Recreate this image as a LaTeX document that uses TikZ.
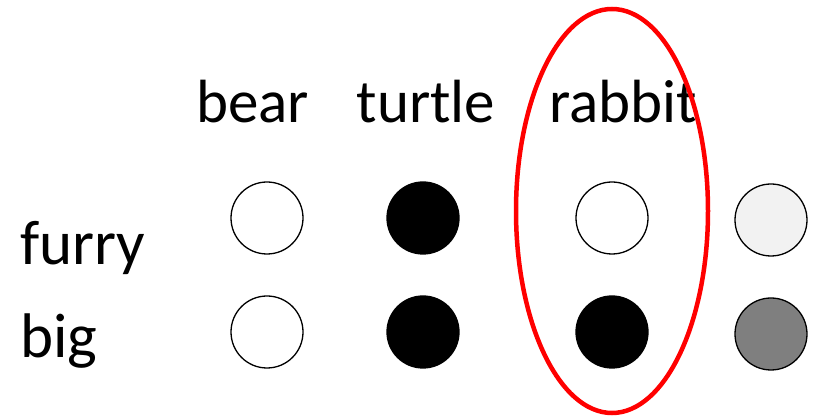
\documentclass[tikz,border=0pt]{standalone}
\usepackage{fontspec}
\setmainfont{Carlito}
\usetikzlibrary{positioning}
\definecolor{selred}{HTML}{FF0000}
\definecolor{lightfill}{HTML}{F2F2F2}
\definecolor{midfill}{HTML}{7F7F7F}
\tikzset{
  unit/.style={circle, draw=black, line width=1.3pt, minimum size=72pt, inner sep=0pt},
  lbl/.style={font=\fontsize{61}{61}\selectfont, inner sep=0pt},
  rowlbl/.style={font=\fontsize{63}{63}\selectfont, inner sep=0pt, anchor=base west},
  sel/.style={draw=selred, line width=4.5pt},
}
\begin{document}
\begin{tikzpicture}[x=1pt, y=-1pt]
  \useasboundingbox (0,0) rectangle (815,419);
  \foreach \name/\x in {bear/252.5, turtle/426, rabbit/623}{
    \node[lbl, anchor=base] (h\name) at (\x,123) {\name};
  }
  \node[rowlbl] (furry) at (20,265) {furry};
  \node[rowlbl] (big) at (20,358) {big};
  \foreach \i/\x/\dy/\top/\bot in {0/267/0/white/white, 1/423/0/black/black, 2/612/0/white/black, 3/771/2/lightfill/midfill}{
    \node[unit, fill=\top] (u\i a) at (\x,218+\dy) {};
    \node[unit, fill=\bot] (u\i b) at (\x,332+\dy) {};
  }
  \draw[sel] (612,211) ellipse [x radius=96, y radius=202];
\end{tikzpicture}
\end{document}
